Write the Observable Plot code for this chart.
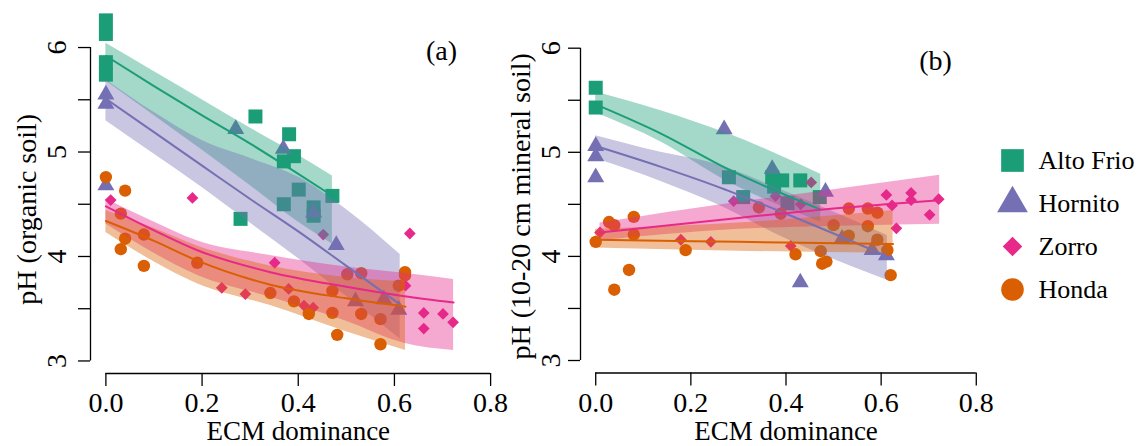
<!DOCTYPE html>
<html>
<head>
<meta charset="utf-8">
<script src="https://cdn.jsdelivr.net/npm/d3@7"></script>
<script src="https://cdn.jsdelivr.net/npm/@observablehq/plot@0.6"></script>
<style>
  html, body { margin: 0; padding: 0; background: #fff; }
  #wrap { position: relative; width: 1138px; height: 446px; overflow: hidden; }
  #wrap > svg { position: absolute; top: 0; }
</style>
</head>
<body>
<div id="wrap"></div>
<script>
// ---------- categories & tick labels ----------
const sites = ["Alto Frio", "Hornito", "Zorro", "Honda"];
const xTicks = [0, 0.2, 0.4, 0.6, 0.8];
const yTicks = [3, 3.5, 4, 4.5, 5, 5.5, 6];
const yTickLabels = [3, 4, 5, 6];
const xTitle = "ECM dominance";
const yTitleA = "pH (organic soil)";
const yTitleB = "pH (10-20 cm mineral soil)";

// ---------- panel (a): organic soil, points [ECM, pH] ----------
const organicAltoFrio = [[0,6.26],[0,6.13],[0,5.86],[0,5.74],[0.311,5.34],[0.381,5.17],[0.391,4.96],[0.370,4.91],[0.401,4.64],[0.370,4.50],[0.432,4.47],[0.432,4.39],[0.471,4.58],[0.280,4.36]];
const organicHornito = [[0,5.55],[0,5.46],[0,4.68],[0.270,5.22],[0.369,5.03],[0.432,4.42],[0.479,4.11],[0.519,3.57],[0.578,3.59],[0.609,3.49]];
const organicZorro = [[0.010,4.54],[0.180,4.56],[0.351,3.94],[0.241,3.70],[0.290,3.64],[0.452,4.21],[0.632,4.22],[0.380,3.69],[0.412,3.53],[0.431,3.51],[0.623,3.72],[0.661,3.46],[0.661,3.31],[0.701,3.45],[0.722,3.37]];
const organicHonda = [[0,4.76],[0.040,4.63],[0.031,4.41],[0.040,4.17],[0.031,4.07],[0.079,4.21],[0.079,3.91],[0.190,3.94],[0.342,3.65],[0.391,3.57],[0.422,3.45],[0.471,3.67],[0.471,3.46],[0.481,3.25],[0.502,3.83],[0.531,3.84],[0.531,3.45],[0.571,3.40],[0.571,3.16],[0.609,3.72],[0.622,3.85],[0.622,3.82]];

// fitted curves [ECM, fit, lower, upper]
const organicAltoFrioFit = [[0,5.92,5.68,6.04],[0.1,5.63,5.35,5.77],[0.2,5.35,5.02,5.50],[0.3,5.08,4.68,5.23],[0.4,4.79,4.33,4.97],[0.471,4.58,4.12,4.77]];
const organicHornitoFit = [[0,5.51,5.30,5.69],[0.1,5.19,4.98,5.38],[0.2,4.87,4.66,5.11],[0.3,4.55,4.32,4.94],[0.4,4.24,3.98,4.76],[0.5,3.91,3.62,4.45],[0.612,3.54,3.21,4.02]];
const organicZorroFit = [[0,4.48,4.31,4.55],[0.1,4.25,4.03,4.33],[0.19,4.06,3.82,4.15],[0.342,3.85,3.61,4.01],[0.5,3.71,3.38,3.90],[0.62,3.62,3.17,3.84],[0.723,3.56,3.10,3.78]];
const organicHondaFit = [[0,4.34,4.23,4.44],[0.1,4.15,3.95,4.27],[0.19,3.96,3.74,4.10],[0.342,3.73,3.53,3.91],[0.5,3.60,3.28,3.80],[0.623,3.52,3.10,3.76]];

// ---------- panel (b): 10-20 cm mineral soil ----------
const mineralAltoFrio = [[0,5.62],[0,5.43],[0.280,4.76],[0.310,4.57],[0.371,4.76],[0.375,4.67],[0.392,4.73],[0.430,4.73],[0.403,4.51],[0.471,4.57]];
const mineralHornito = [[0,5.06],[0,4.96],[0,4.76],[0.270,5.22],[0.371,4.84],[0.483,4.62],[0.518,4.17],[0.581,4.06],[0.611,4.01],[0.430,3.75]];
const mineralZorro = [[0.009,4.23],[0.179,4.16],[0.242,4.14],[0.290,4.53],[0.378,4.58],[0.410,4.10],[0.431,4.50],[0.453,4.71],[0.611,4.59],[0.623,4.49],[0.663,4.61],[0.663,4.54],[0.721,4.55],[0.702,4.40],[0.632,4.27]];
const mineralHonda = [[0,4.14],[0.028,4.33],[0.039,4.30],[0.080,4.38],[0.080,4.21],[0.070,3.87],[0.039,3.68],[0.189,4.06],[0.343,4.47],[0.389,4.41],[0.420,4.02],[0.473,4.05],[0.476,3.93],[0.485,3.95],[0.500,4.30],[0.532,4.46],[0.532,4.20],[0.572,4.46],[0.572,4.29],[0.592,4.42],[0.592,4.16],[0.613,4.06],[0.620,3.82]];

const mineralAltoFrioFit = [[0,5.46,5.38,5.58],[0.137,5.18,5.10,5.40],[0.277,4.84,4.72,5.18],[0.473,4.45,4.33,4.79]];
const mineralHornitoFit = [[0,5.06,4.94,5.16],[0.137,4.86,4.72,5.00],[0.25,4.68,4.51,4.89],[0.4,4.41,4.17,4.62],[0.613,4.00,3.77,4.20]];
const mineralZorroFit = [[0.009,4.23,4.15,4.32],[0.3,4.37,4.26,4.52],[0.5,4.46,4.29,4.64],[0.723,4.54,4.31,4.78]];
const mineralHondaFit = [[0,4.16,4.08,4.26],[0.3,4.14,4.05,4.32],[0.625,4.12,4.03,4.44]];

// ---------- styles ----------
const siteColors = ["#1b9e77", "#7570b3", "#e7298a", "#d95f02"];
const siteSymbols = ["square", "triangle", "diamond2", "circle"];
const dotR = [7.9, 6.3, 5.3, 6.2];
const legendR = [12.8, 11.4, 8.8, 11.3];
const xDomain = [-0.032, 0.832];   // R-style 4% padding
const yDomain = [2.88, 6.12];
const font = "'Liberation Serif', 'Times New Roman', serif";

function panel(cfg) {
  const pts = cfg.points.map((arr, i) => arr.map(([x, y]) => ({site: sites[i], x, y})));
  const fits = cfg.fits.map((arr, i) => arr.map(([x, fit, lo, hi]) => ({site: sites[i], x, fit, lo, hi})));
  return Plot.plot({
    width: cfg.width, height: 446,
    marginLeft: cfg.marginLeft, marginRight: cfg.marginRight,
    marginTop: cfg.marginTop, marginBottom: cfg.marginBottom,
    style: {fontFamily: font, fontSize: "28px", background: "transparent", color: "#000", overflow: "visible"},
    x: {domain: xDomain},
    y: {domain: yDomain},
    marks: [
      ...pts.map((d, i) => Plot.dot(d, {x: "x", y: "y", symbol: siteSymbols[i], r: dotR[i], fill: siteColors[i], stroke: "none"})),
      ...fits.map((d, i) => Plot.areaY(d, {x: "x", y1: "lo", y2: "hi", fill: siteColors[i], fillOpacity: 0.4, curve: "monotone-x"})),
      ...fits.map((d, i) => Plot.line(d, {x: "x", y: "fit", stroke: siteColors[i], strokeWidth: 2, curve: "monotone-x"})),
      // axes (R-style detached)
      Plot.ruleY([yDomain[0]], {x1: xTicks[0], x2: xTicks[xTicks.length - 1], stroke: "#000", strokeWidth: 1.3}),
      Plot.ruleX([xDomain[0]], {y1: yTicks[0], y2: yTicks[yTicks.length - 1], stroke: "#000", strokeWidth: 1.3}),
      Plot.axisX(xTicks, {tickSize: 13, tickPadding: 6, tickFormat: d3.format(".1f"), label: null, stroke: "#000", strokeWidth: 1.3, fill: "#000"}),
      Plot.axisY(yTicks, {tickSize: 12, tickFormat: () => "", label: null, stroke: "#000", strokeWidth: 1.3}),
      Plot.text(yTickLabels, {y: d => d, text: d => String(d), frameAnchor: "left", rotate: -90, dx: cfg.yTickDx, lineAnchor: "middle", textAnchor: "middle", fill: "#000"}),
      Plot.text([cfg.yTitle], {text: d => d, frameAnchor: "left", rotate: -90, dx: cfg.yTitleDx, dy: cfg.yTitleDy, lineAnchor: "middle", textAnchor: "middle", fill: "#000"}),
      Plot.text([xTitle], {text: d => d, frameAnchor: "bottom", dy: 58, fontSize: 27, lineAnchor: "middle", textAnchor: "middle", fill: "#000"}),
      Plot.text([cfg.tag], {text: d => d, frameAnchor: "top-right", dx: cfg.tagDx, dy: cfg.tagDy, lineAnchor: "middle", textAnchor: "middle", fill: "#000"})
    ]
  });
}

const wrap = document.getElementById("wrap");

const svgA = panel({
  points: [organicAltoFrio, organicHornito, organicZorro, organicHonda],
  fits: [organicAltoFrioFit, organicHornitoFit, organicZorroFit, organicHondaFit],
  yTitle: yTitleA, tag: "(a)",
  width: 506, marginLeft: 90, marginRight: 0.5, marginTop: 34.5, marginBottom: 73,
  yTickDx: -33, yTitleDx: -63, yTitleDy: 5, tagDx: -64.5, tagDy: 16.5
});
svgA.style.left = "0px";
wrap.appendChild(svgA);

const svgB = panel({
  points: [mineralAltoFrio, mineralHornito, mineralZorro, mineralHonda],
  fits: [mineralAltoFrioFit, mineralHornitoFit, mineralZorroFit, mineralHondaFit],
  yTitle: yTitleB, tag: "(b)",
  width: 500, marginLeft: 80, marginRight: 9, marginTop: 35.2, marginBottom: 73.5,
  yTickDx: -29.5, yTitleDx: -59, yTitleDy: 2, tagDx: -56, tagDy: 25
});
svgB.style.left = "500px";
wrap.appendChild(svgB);

const legend = Plot.plot({
  width: 148, height: 446,
  marginLeft: 22, marginRight: 0, marginTop: 0, marginBottom: 0,
  style: {fontFamily: font, fontSize: "26px", background: "transparent", color: "#000", overflow: "visible"},
  y: {type: "point", domain: sites, range: [160, 289], padding: 0, axis: null},
  marks: [
    ...sites.map((s, i) => Plot.dot([s], {y: d => d, frameAnchor: "left", symbol: siteSymbols[i], r: legendR[i], fill: siteColors[i], stroke: "none"})),
    Plot.text(sites, {y: d => d, text: d => d, frameAnchor: "left", dx: 26, textAnchor: "start", lineAnchor: "middle", fill: "#000"})
  ]
});
legend.style.left = "990px";
wrap.appendChild(legend);
</script>
</body>
</html>
